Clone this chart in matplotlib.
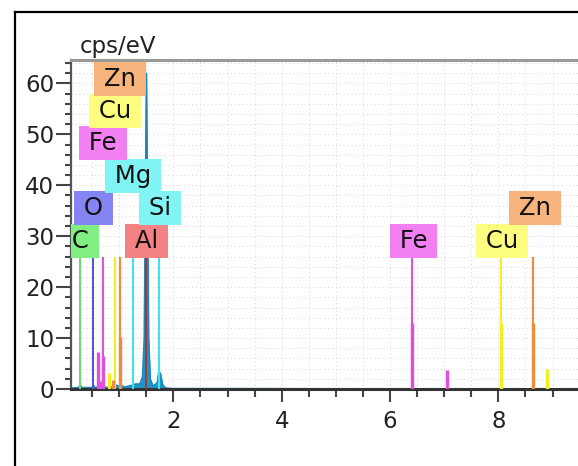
import numpy as np
import matplotlib
matplotlib.use('Agg')
import matplotlib.pyplot as plt
from matplotlib.ticker import MultipleLocator
from matplotlib.lines import Line2D

plt.rcParams.update({'font.family': 'DejaVu Sans'})

# measured spectrum (energy keV, cps/eV)
spec_e = [0.12, 0.25, 0.27, 0.28, 0.30, 0.50, 0.52, 0.55, 0.65, 0.70, 0.75, 0.90, 0.93,
          1.00, 1.02, 1.10, 1.25, 1.30, 1.38, 1.43, 1.46, 1.48, 1.50, 1.52, 1.54, 1.57,
          1.62, 1.70, 1.73, 1.76, 1.80, 1.86, 2.00, 3.00, 6.00, 9.60]
spec_c = [0.2, 0.3, 0.7, 0.8, 0.3, 0.3, 0.8, 0.3, 0.4, 0.6, 0.3, 0.5, 0.8,
          0.6, 0.8, 0.4, 0.8, 1.0, 1.0, 2.5, 10.0, 35.0, 62.0, 35.0, 10.0, 2.0,
          0.6, 1.2, 3.5, 3.0, 0.8, 0.2, 0.1, 0.1, 0.05, 0.05]

# element marker lines (full height)
mark_elem = ['C', 'O', 'Fe', 'Cu', 'Zn', 'Mg', 'Al', 'Si', 'Fe', 'Cu', 'Zn']
mark_e = [0.277, 0.525, 0.705, 0.930, 1.012, 1.254, 1.487, 1.740, 6.404, 8.048, 8.639]
mark_h = [26, 26, 26, 26, 26, 26, 26, 26, 26, 26, 26]

# secondary (lower) lines
sub_elem = ['Fe', 'Fe', 'Fe', 'Cu', 'Zn', 'Zn', 'Fe', 'Fe', 'Cu', 'Cu', 'Zn']
sub_e = [0.615, 0.650, 0.705, 0.811, 0.884, 1.012, 6.404, 7.058, 8.048, 8.905, 8.639]
sub_h = [7.3, 1.5, 6.5, 3.2, 1.8, 10.3, 13.0, 3.7, 13.0, 3.9, 13.0]

# label boxes
lab_elem = ['C', 'Al', 'O', 'Si', 'Mg', 'Fe', 'Cu', 'Zn', 'Fe', 'Cu', 'Zn']
lab_x = [0.277, 1.51, 0.52, 1.75, 1.26, 0.70, 0.925, 1.02, 6.43, 8.07, 8.68]
lab_y = [29.1, 29.1, 35.6, 35.6, 41.8, 48.3, 54.6, 60.9, 29.1, 29.1, 35.6]

line_col = {'C': '#66dd66', 'O': '#5555dd', 'Fe': '#e050e0', 'Cu': '#f0f020',
            'Zn': '#f08a3c', 'Mg': '#44e0f0', 'Al': '#a03a3a', 'Si': '#44e0f0'}
box_col = {'C': '#80ee80', 'O': '#8484f2', 'Fe': '#f280f2', 'Cu': '#fdfd80',
           'Zn': '#f6b47c', 'Mg': '#80f4f4', 'Al': '#f48282', 'Si': '#80f4f4'}

fig = plt.figure(figsize=(5.78, 4.66), dpi=100)
ax = fig.add_axes([71 / 578, 77 / 466, 507 / 578, 329 / 466])

# outer frame
fig.add_artist(Line2D([15 / 578, 15 / 578], [0, 1 - 12 / 466], transform=fig.transFigure,
                      color='black', lw=1.6))
fig.add_artist(Line2D([15 / 578, 1], [1 - 12 / 466, 1 - 12 / 466], transform=fig.transFigure,
                      color='black', lw=1.6))

ax.fill_between(spec_e, 0, spec_c, color='#1e96c8', lw=0.8, zorder=2)
ax.plot(spec_e, spec_c, color='#1e86b8', lw=1.0, zorder=2)

for el, e, h in zip(mark_elem, mark_e, mark_h):
    ax.vlines(e, 0, h, color=line_col[el], lw=1.5, zorder=3)
for el, e, h in zip(sub_elem, sub_e, sub_h):
    ax.vlines(e, 0, h, color=line_col[el], lw=2.4, zorder=3)

for el, x, y in zip(lab_elem, lab_x, lab_y):
    ax.text(x, y, '\u2009' + el + '\u2009', ha='center', va='center', fontsize=17.5,
            color='#111111', zorder=5, clip_on=True,
            bbox=dict(boxstyle='square,pad=0.21', fc=box_col[el], ec='none'))

ax.set_xlim(0.11, 9.47)
ax.set_ylim(0, 64.6)
ax.xaxis.set_major_locator(MultipleLocator(2))
ax.xaxis.set_minor_locator(MultipleLocator(0.5))
ax.yaxis.set_major_locator(MultipleLocator(10))
ax.yaxis.set_minor_locator(MultipleLocator(2))
ax.grid(which='both', color='#d4d4d4', lw=0.7, ls=(0, (1, 3)), zorder=0)
ax.set_axisbelow(True)

ax.tick_params(axis='x', which='major', length=9, width=1.5, color='#444444',
               labelsize=16.5, pad=6, labelcolor='#222222')
ax.tick_params(axis='x', which='minor', length=5.5, width=1.5, color='#444444')
ax.tick_params(axis='y', which='major', length=11, width=1.5, color='#444444',
               labelsize=16.5, pad=1, labelcolor='#222222')
ax.tick_params(axis='y', which='minor', length=4.5, width=1.5, color='#444444')

ax.spines['right'].set_visible(False)
ax.spines['top'].set_color('#999999')
ax.spines['top'].set_linewidth(2.2)
ax.spines['left'].set_color('#555555')
ax.spines['left'].set_linewidth(1.6)
ax.spines['bottom'].set_color('#333333')
ax.spines['bottom'].set_linewidth(2.2)

ax.text(0.018, 1.0 + 7 / 329, 'cps/eV', transform=ax.transAxes, ha='left', va='baseline',
        fontsize=16.5, color='#222222')

fig.savefig('out.png', dpi=100)
